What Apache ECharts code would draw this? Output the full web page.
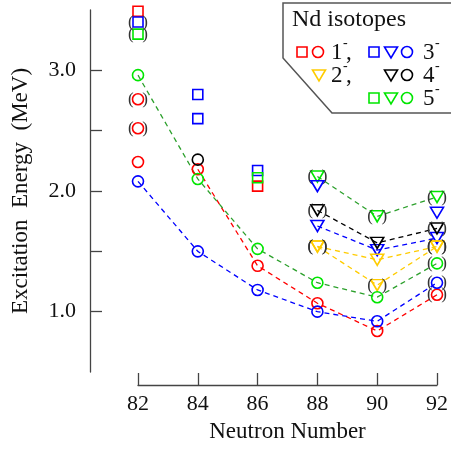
<!DOCTYPE html>
<html><head><meta charset="utf-8">
<script src="https://cdn.jsdelivr.net/npm/echarts@6/dist/echarts.min.js"></script>
<style>html,body{margin:0;padding:0;background:#fff}#c{width:451px;height:450px}</style>
</head><body><div id="c"></div>
<script>
// Neutron numbers (x tick labels)
const neutronTicks = [82, 84, 86, 88, 90, 92];
const energyTicks = [1.0, 2.0, 3.0];
// Data: [N, E(MeV), tentative(1 = in parentheses)]
const red1Squares = [[82, 3.49, 0], [86, 2.04, 0]];
const red1CirclesFree = [[82, 2.24, 0], [82, 2.76, 1], [82, 2.52, 1]];
const red1CirclesLine = [[84, 2.18, 0], [86, 1.38, 0], [88, 1.07, 0], [90, 0.84, 0], [92, 1.14, 1]];
const blue3Squares = [[82, 3.40, 1], [84, 2.80, 0], [84, 2.60, 0], [86, 2.17, 0]];
const blue3CirclesLine = [[82, 2.08, 0], [84, 1.50, 0], [86, 1.18, 0], [88, 1.00, 0], [90, 0.92, 0], [92, 1.24, 1]];
const blue3TrianglesLine = [[88, 1.71, 0], [90, 1.51, 0], [92, 1.61, 0]];
const blue3TrianglesFree = [[88, 2.04, 0], [92, 1.82, 0]];
const yellow2TrianglesA = [[88, 1.54, 1], [90, 1.43, 0], [92, 1.54, 1]];
const yellow2TrianglesB = [[88, 1.54, 1], [90, 1.22, 1], [92, 1.54, 1]];
const black4TrianglesLine = [[88, 1.84, 1], [90, 1.57, 0], [92, 1.69, 1]];
const black4Circles = [[84, 2.26, 0]];
const green5Squares = [[82, 3.30, 1], [86, 2.11, 0]];
const green5CirclesLine = [[82, 2.96, 0], [84, 2.10, 0], [86, 1.52, 0], [88, 1.24, 0], [90, 1.12, 0], [92, 1.40, 1]];
const green5TrianglesLine = [[88, 2.12, 1], [90, 1.79, 1], [92, 1.95, 1]];

const RED = '#ff0000', BLUE = '#0000ff', GREEN = '#00e600', GREENLINE = '#2ca02c', YELLOW = '#ffcc00', BLACK = '#000000';
const FONT = 'Liberation Serif';

function toData(arr) {
  return arr.map(d => {
    const item = { value: [d[0], d[1]] };
    if (d[2]) item.label = { show: true };
    return item;
  });
}
const SYM = {
  square: { symbol: 'rect', symbolSize: 10, symbolRotate: 0 },
  circle: { symbol: 'circle', symbolSize: 11, symbolRotate: 0 },
  tri: { symbol: 'triangle', symbolSize: [13, 11], symbolRotate: 180 }
};
function mk(name, arr, shape, color, lineColor, withLine) {
  return Object.assign({
    name, type: 'line', data: toData(arr), showSymbol: true,
    itemStyle: { color: 'rgba(255,255,255,0)', borderColor: color, borderWidth: 1.6 },
    lineStyle: withLine ? { color: lineColor, width: 1.3, type: [5, 4] } : { width: 0, opacity: 0 },
    label: { show: false, position: 'inside', formatter: '(  )', fontFamily: FONT, fontSize: 17, color: '#333' },
    emphasis: { disabled: true }, z: withLine ? 2 : 3, animation: false
  }, SYM[shape]);
}

const series = [
  mk('r1s', red1Squares, 'square', RED, RED, false),
  mk('r1c', red1CirclesFree, 'circle', RED, RED, false),
  mk('r1cl', red1CirclesLine, 'circle', RED, RED, true),
  mk('b3s', blue3Squares, 'square', BLUE, BLUE, false),
  mk('b3cl', blue3CirclesLine, 'circle', BLUE, BLUE, true),
  mk('b3tl', blue3TrianglesLine, 'tri', BLUE, BLUE, true),
  mk('b3t', blue3TrianglesFree, 'tri', BLUE, BLUE, false),
  mk('y2a', yellow2TrianglesA, 'tri', YELLOW, YELLOW, true),
  mk('y2b', yellow2TrianglesB, 'tri', YELLOW, YELLOW, true),
  mk('k4tl', black4TrianglesLine, 'tri', BLACK, BLACK, true),
  mk('k4c', black4Circles, 'circle', BLACK, BLACK, false),
  mk('g5s', green5Squares, 'square', GREEN, GREEN, false),
  mk('g5cl', green5CirclesLine, 'circle', GREEN, GREENLINE, true),
  mk('g5tl', green5TrianglesLine, 'tri', GREEN, GREENLINE, true)
];

// legend graphics
const g = [];
g.push({ type: 'polyline', shape: { points: [[452, 3], [283, 3], [283, 58], [332, 113], [452, 113]] },
  style: { stroke: '#555', lineWidth: 1.5, fill: '#fff' }, z: 10 });
function lSq(x, y, c) { g.push({ type: 'rect', shape: { x: x - 5, y: y - 5, width: 10, height: 10 }, style: { stroke: c, fill: 'none', lineWidth: 1.6 }, z: 11 }); }
function lCi(x, y, c) { g.push({ type: 'circle', shape: { cx: x, cy: y, r: 5.5 }, style: { stroke: c, fill: 'none', lineWidth: 1.6 }, z: 11 }); }
function lTr(x, y, c) { g.push({ type: 'polygon', shape: { points: [[x - 6.5, y - 5], [x + 6.5, y - 5], [x, y + 6]] }, style: { stroke: c, fill: 'none', lineWidth: 1.6 }, z: 11 }); }
function lTx(x, y, t, sup, comma) {
  g.push({ type: 'text', x: x, y: y, style: { text: t, font: '23px ' + FONT, fill: '#111', textVerticalAlign: 'middle' }, z: 11 });
  g.push({ type: 'text', x: x + 12, y: y - 10, style: { text: '-', font: '14px ' + FONT, fill: '#111', textVerticalAlign: 'middle' }, z: 11 });
  if (comma) g.push({ type: 'text', x: x + 15, y: y, style: { text: ',', font: '23px ' + FONT, fill: '#111', textVerticalAlign: 'middle' }, z: 11 });
}
g.push({ type: 'text', x: 292, y: 20, style: { text: 'Nd isotopes', font: '24px ' + FONT, fill: '#111', textVerticalAlign: 'middle' }, z: 11 });
lSq(302, 52, RED); lCi(318, 52, RED); lTx(331, 53, '1', true, true);
lSq(374, 52, BLUE); lTr(391, 52, BLUE); lCi(407, 52, BLUE); lTx(423, 53, '3', true, false);
lTr(319, 75, YELLOW); lTx(331, 76, '2', true, true);
lTr(391, 75, BLACK); lCi(407, 75, BLACK); lTx(423, 76, '4', true, false);
lSq(374, 98, GREEN); lTr(391, 98, GREEN); lCi(407, 98, GREEN); lTx(423, 99, '5', true, false);

const option = {
  animation: false,
  backgroundColor: '#fff',
  grid: { left: 138, right: 11, top: 10, bottom: 78 },
  xAxis: {
    type: 'value', min: 82, max: 92, interval: 2, offset: 13,
    axisLine: { lineStyle: { color: '#444', width: 1.3 } },
    axisTick: { inside: true, length: 12, lineStyle: { color: '#444', width: 1.3 } },
    axisLabel: { margin: 8, fontFamily: FONT, fontSize: 22, color: '#111',
      formatter: v => neutronTicks.includes(v) ? String(v) : '' },
    splitLine: { show: false },
    name: 'Neutron Number', nameLocation: 'middle', nameGap: 35,
    nameTextStyle: { fontFamily: FONT, fontSize: 23, color: '#111' }
  },
  yAxis: {
    type: 'value', min: 0.5, max: 3.5, interval: 0.5, offset: 48,
    axisLine: { lineStyle: { color: '#444', width: 1.3 } },
    axisTick: { inside: true, length: 12, customValues: [1.0, 1.5, 2.0, 2.5, 3.0], lineStyle: { color: '#444', width: 1.3 } },
    axisLabel: { margin: 14, fontFamily: FONT, fontSize: 22, color: '#111', customValues: energyTicks,
      formatter: v => Number(v).toFixed(1) },
    splitLine: { show: false },
    name: 'Excitation  Energy  (MeV)', nameLocation: 'middle', nameGap: 58, nameRotate: 90,
    nameTextStyle: { fontFamily: FONT, fontSize: 23, color: '#111' }
  },
  graphic: g,
  series: series
};
const chart = echarts.init(document.getElementById('c'), null, { renderer: 'canvas' });
chart.setOption(option);
</script></body></html>
